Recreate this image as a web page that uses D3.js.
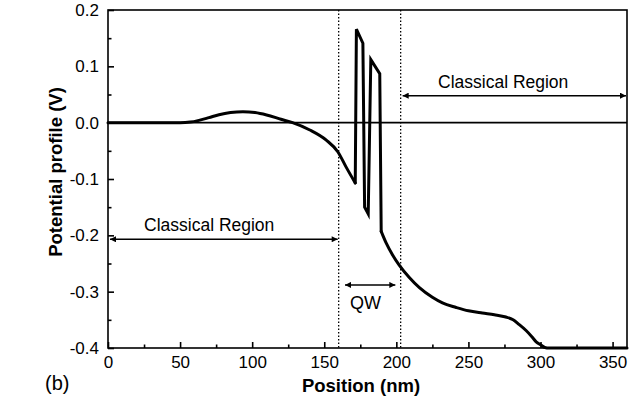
<!DOCTYPE html>
<html>
<head>
<meta charset="utf-8">
<script src="https://cdn.jsdelivr.net/npm/d3@7"></script>
<style>
  body { margin: 0; background: #fff; }
  text { font-family: Arial, "Liberation Sans", sans-serif; fill: #000; }
  .axis path, .axis line { stroke: #000; stroke-width: 1.6; }
  .axis text { font-size: 17px; }
</style>
</head>
<body>
<div class="container"></div>
<script>
const WIDTH = 629;
const HEIGHT = 402;
const LEFT = 108, RIGHT = 627, TOP = 10, BOTTOM = 348;

// potential profile, in three stretches:
// smooth left side, the quantum-well spikes, smooth right side
const leftX = [0, 50, 57, 63.7, 70, 77, 85, 93.6, 102, 110, 120, 128, 140, 151.4, 159.5, 165, 171.5];
const leftV = [0, 0, 0.001, 0.0045, 0.009, 0.0142, 0.018, 0.0195, 0.018, 0.0137, 0.006, 0, -0.013, -0.031, -0.052, -0.078, -0.107];
const wellX = [171.5, 172.3, 176.8, 178, 180.5, 182.3, 188.5, 189.5];
const wellV = [-0.107, 0.166, 0.141, -0.150, -0.162, 0.112, 0.087, -0.193];
const rightX = [189.5, 193, 197.4, 202, 209, 216, 225, 232, 241.5, 250, 259.6, 268, 276, 281, 285, 290, 294, 297, 300.5, 303, 306, 320, 360];
const rightV = [-0.193, -0.214, -0.235, -0.253, -0.275, -0.293, -0.310, -0.320, -0.328, -0.334, -0.338, -0.341, -0.345, -0.350, -0.358, -0.369, -0.380, -0.389, -0.395, -0.399, -0.4, -0.4, -0.4];

const xTicks = [0, 50, 100, 150, 200, 250, 300, 350];
const xMinor = [25, 75, 125, 175, 225, 275, 325];
const yTicks = [0.2, 0.1, 0.0, -0.1, -0.2, -0.3, -0.4];
const yMinor = [0.15, 0.05, -0.05, -0.15, -0.25, -0.35];

const regionBounds = [160, 203];
// [x1, x2, y, label]
const arrows = [
  [0, 160, -0.207, "Classical Region"],
  [203, 360, 0.048, "Classical Region"],
  [163, 200, -0.288, "QW"]
];

var x = d3.scaleLinear().domain([0, 360]).range([LEFT, RIGHT]);
var y = d3.scaleLinear().domain([-0.4, 0.2]).range([BOTTOM, TOP]);

var svg = d3.select('.container').append('svg')
  .attr('width', WIDTH)
  .attr('height', HEIGHT);

var defs = svg.append('defs');
defs.append('marker').attr('id', 'head')
  .attr('viewBox', '0 0 10 10').attr('refX', 10).attr('refY', 5)
  .attr('markerWidth', 9).attr('markerHeight', 6)
  .attr('markerUnits', 'userSpaceOnUse')
  .attr('orient', 'auto-start-reverse')
  .append('path').attr('d', 'M0,0L10,5L0,10Z').attr('fill', '#000');

// frame
svg.append('rect')
  .attr('x', LEFT).attr('y', TOP)
  .attr('width', RIGHT - LEFT).attr('height', BOTTOM - TOP)
  .attr('fill', 'none').attr('stroke', '#000').attr('stroke-width', 1.6);

// axes with inward ticks
svg.append('g').attr('class', 'axis')
  .attr('transform', 'translate(0,' + BOTTOM + ')')
  .call(d3.axisBottom(x).tickValues(xTicks).tickSizeInner(-6).tickSizeOuter(0).tickPadding(8).tickFormat(d3.format('d')));
svg.append('g').attr('class', 'axis')
  .attr('transform', 'translate(0,' + BOTTOM + ')')
  .call(d3.axisBottom(x).tickValues(xMinor).tickSizeInner(-3.5).tickSizeOuter(0).tickFormat(''));
svg.append('g').attr('class', 'axis')
  .attr('transform', 'translate(' + LEFT + ',0)')
  .call(d3.axisLeft(y).tickValues(yTicks).tickSizeInner(-6).tickSizeOuter(0).tickPadding(9).tickFormat(d3.format('.1f')));
svg.append('g').attr('class', 'axis')
  .attr('transform', 'translate(' + LEFT + ',0)')
  .call(d3.axisLeft(y).tickValues(yMinor).tickSizeInner(-3.5).tickSizeOuter(0).tickFormat(''));
svg.selectAll('.axis .domain').remove();
svg.selectAll('.axis text').text(function () { return this.textContent.replace('−', '-'); });

// zero line
svg.append('line')
  .attr('x1', x(0)).attr('x2', x(360)).attr('y1', y(0)).attr('y2', y(0))
  .attr('stroke', '#000').attr('stroke-width', 1.6);

// dotted region bounds
svg.append('g').selectAll('line').data(regionBounds).enter().append('line')
  .attr('x1', d => x(d)).attr('x2', d => x(d))
  .attr('y1', TOP).attr('y2', BOTTOM)
  .attr('stroke', '#000').attr('stroke-width', 1.3).attr('stroke-dasharray', '1.5,2');

// profile
var smooth = d3.line().x(d => x(d[0])).y(d => y(d[1])).curve(d3.curveMonotoneX);
var sharp = d3.line().x(d => x(d[0])).y(d => y(d[1]));
var stretches = [
  [leftX, leftV, smooth],
  [wellX, wellV, sharp],
  [rightX, rightV, smooth]
];
stretches.forEach(function (s) {
  svg.append('path').datum(s[0].map((p, i) => [p, s[1][i]]))
    .attr('d', s[2])
    .attr('fill', 'none').attr('stroke', '#000')
    .attr('stroke-width', 3).attr('stroke-linejoin', 'miter').attr('stroke-linecap', 'round');
});

// double arrows and their labels
arrows.forEach(function (a) {
  svg.append('line')
    .attr('x1', x(a[0]) + 2).attr('x2', x(a[1]) - 1)
    .attr('y1', y(a[2])).attr('y2', y(a[2]))
    .attr('stroke', '#000').attr('stroke-width', 1.5)
    .attr('marker-start', 'url(#head)').attr('marker-end', 'url(#head)');
});
svg.append('text').attr('x', 144).attr('y', y(-0.207) - 8).style('font-size', '17.5px').text(arrows[0][3]);
svg.append('text').attr('x', 438).attr('y', y(0.048) - 8).style('font-size', '17.5px').text(arrows[1][3]);
svg.append('text').attr('x', 350).attr('y', 309).style('font-size', '18px').text(arrows[2][3]);

// titles
svg.append('text')
  .attr('x', 361).attr('y', 392)
  .attr('text-anchor', 'middle')
  .style('font-size', '18.5px').style('font-weight', 'bold')
  .text('Position (nm)');
svg.append('text')
  .attr('transform', 'translate(62,172) rotate(-90)')
  .attr('text-anchor', 'middle')
  .style('font-size', '18.5px').style('font-weight', 'bold')
  .text('Potential profile (V)');
svg.append('text').attr('x', 45).attr('y', 390).style('font-size', '20px').text('(b)');
</script>
</body>
</html>
